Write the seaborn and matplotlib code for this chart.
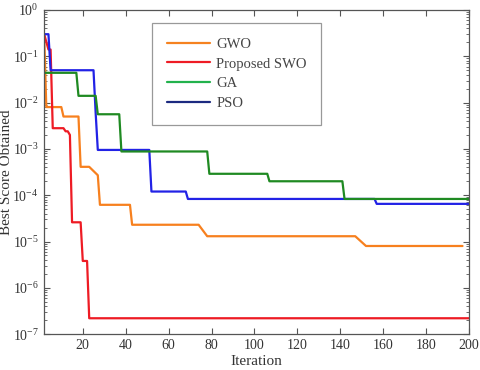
import pandas as pd
import seaborn as sns
import matplotlib.pyplot as plt
from matplotlib.lines import Line2D
from matplotlib.ticker import LogLocator, NullFormatter


# DATI (punti di rottura delle curve di convergenza)
gwo_iter = [2, 3, 10, 11, 18, 19, 23, 27, 28, 42, 43, 74, 78, 147, 152, 197]
gwo_val = [0.3, 0.008, 0.008, 0.005, 0.005, 4.1e-4, 4.1e-4, 2.7e-4, 6.2e-5,
           6.2e-5, 2.3e-5, 2.3e-5, 1.3e-5, 1.3e-5, 8e-6, 8e-6]

swo_iter = [2, 4, 5, 6, 11, 12, 13, 14, 15, 19, 20, 22, 23, 200]
swo_val = [0.3, 0.14, 0.14, 0.0028, 0.0028, 0.0024, 0.0024, 0.002, 2.6e-5,
           2.6e-5, 3.8e-6, 3.8e-6, 2.2e-7, 2.2e-7]

ga_iter = [2, 17, 18, 26, 27, 37, 38, 78, 79, 106, 107, 141, 142, 200]
ga_val = [0.044, 0.044, 0.014, 0.014, 0.0056, 0.0056, 8.8e-4, 8.8e-4, 2.9e-4,
          2.9e-4, 2.0e-4, 2.0e-4, 8.3e-5, 8.3e-5]

pso_iter = [2, 4, 5, 25, 26, 27, 51, 52, 68, 69, 156, 157, 200]
pso_val = [0.3, 0.3, 0.05, 0.05, 0.006, 9.5e-4, 9.5e-4, 1.2e-4, 1.2e-4,
           8.3e-5, 8.3e-5, 6.5e-5, 6.5e-5]

methods = ["GWO", "Proposed SWO", "PSO", "GA"]
legend_order = ["GWO", "Proposed SWO", "GA", "PSO"]
x_ticks = [20, 40, 60, 80, 100, 120, 140, 160, 180, 200]

series = {"GWO": (gwo_iter, gwo_val), "Proposed SWO": (swo_iter, swo_val),
          "GA": (ga_iter, ga_val), "PSO": (pso_iter, pso_val)}
df = pd.concat([pd.DataFrame({"Iteration": it, "Score": v, "Method": m})
                for m, (it, v) in series.items()], ignore_index=True)

line_colors = {"GWO": "#f7801e", "Proposed SWO": "#ee1b24",
               "GA": "#1f8a22", "PSO": "#2222e6"}
legend_colors = {"GWO": "#f58220", "Proposed SWO": "#ee1c25",
                 "GA": "#22b24c", "PSO": "#1c2a80"}


# STILE
sns.set_style("ticks")
plt.rcParams["font.family"] = ["Liberation Serif", "DejaVu Serif"]
plt.rcParams["mathtext.fontset"] = "custom"
plt.rcParams["mathtext.rm"] = "Liberation Serif"
plt.rcParams["mathtext.it"] = "Liberation Serif:italic"
plt.rcParams["axes.unicode_minus"] = False


# GRAFICO
fig = plt.figure(figsize=(4.8, 3.7), dpi=100)
ax = fig.add_axes([0.092, 0.097, 0.885, 0.876])

sns.lineplot(data=df, x="Iteration", y="Score", hue="Method", hue_order=methods,
             palette=line_colors, estimator=None, sort=False, linewidth=1.6,
             legend=False, ax=ax)

ax.set_yscale("log")
ax.set_ylim(1e-7, 1)
ax.set_xlim(2, 200)
ax.set_xticks(x_ticks)
ax.yaxis.set_major_locator(LogLocator(base=10, numticks=10))
ax.yaxis.set_minor_locator(LogLocator(base=10, subs=range(2, 10), numticks=20))
ax.yaxis.set_minor_formatter(NullFormatter())

for s in ax.spines.values():
    s.set_visible(True)
    s.set_color("#555555")
    s.set_linewidth(0.9)
ax.tick_params(which="both", direction="in", top=True, right=True,
               colors="#555555", labelcolor="#333333", labelsize=10)
ax.tick_params(which="major", length=4)
ax.tick_params(which="minor", length=2)
ax.tick_params(axis="y", pad=4)

ax.set_xlabel("Iteration", fontsize=11, color="#333333")
ax.set_ylabel("Best Score Obtained", fontsize=11, color="#333333")
ax.xaxis.set_label_coords(0.5, -0.063)
ax.yaxis.set_label_coords(-0.074, 0.5)

handles = [Line2D([0], [0], color=legend_colors[m], lw=1.6) for m in legend_order]
leg = ax.legend(handles, legend_order, loc="upper left",
                bbox_to_anchor=(0.254, 0.96), borderaxespad=0, fancybox=False,
                framealpha=1, edgecolor="#999999", fontsize=10.5,
                handlelength=3.0, handletextpad=0.4, labelspacing=0.45,
                borderpad=1.0)
leg.get_frame().set_linewidth(0.9)
for t in leg.get_texts():
    t.set_color("#444444")

fig.savefig("out.png", dpi=100)
plt.close()
